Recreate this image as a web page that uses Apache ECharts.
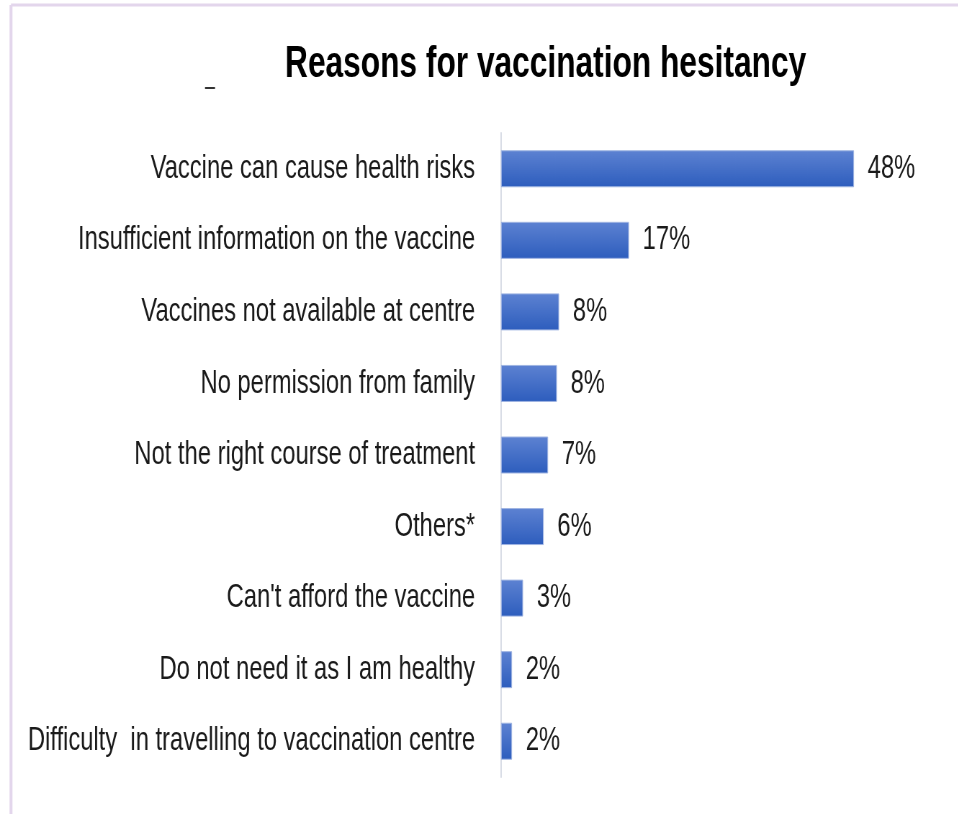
<!DOCTYPE html>
<html>
<head>
<meta charset="utf-8">
<script src="https://cdn.jsdelivr.net/npm/echarts@6/dist/echarts.min.js"></script>
<style>
html,body{margin:0;padding:0;background:#fff;overflow:hidden;}
#wrap{width:958px;height:814px;overflow:hidden;position:relative;}
#chart{width:1330px;height:814px;transform:scaleX(0.72);transform-origin:0 0;position:absolute;left:0;top:0;}
</style>
</head>
<body>
<div id="wrap"><div id="chart"></div></div>
<script>
const titleText = 'Reasons for vaccination hesitancy';
const categories = [
  'Vaccine can cause health risks',
  'Insufficient information on the vaccine',
  'Vaccines not available at centre',
  'No permission from family',
  'Not the right course of treatment',
  'Others*',
  "Can't afford the vaccine",
  'Do not need it as I am healthy',
  'Difficulty  in travelling to vaccination centre'
];
const values = [48, 17.4, 7.9, 7.6, 6.4, 5.8, 3.0, 1.5, 1.5];
const labels = ['48%', '17%', '8%', '8%', '7%', '6%', '3%', '2%', '2%'];

const SX = 0.72; // horizontal squeeze applied by CSS
const FONT = '"Liberation Sans", Arial, sans-serif';
const chart = echarts.init(document.getElementById('chart'), null, {renderer: 'canvas', width: 1330, height: 814});
chart.setOption({
  backgroundColor: '#ffffff',
  animation: false,
  title: {
    text: titleText,
    left: 542 / SX,
    top: 38,
    textAlign: 'center',
    textStyle: {fontFamily: FONT, fontWeight: 'bold', fontSize: 44, color: '#000'}
  },
  graphic: [
    {type: 'line', shape: {x1: 11 / SX, y1: 5, x2: 1330, y2: 5}, style: {stroke: '#e3d6ec', lineWidth: 3}, silent: true},
    {type: 'line', shape: {x1: 11 / SX, y1: 5, x2: 11 / SX, y2: 814}, style: {stroke: '#e3d6ec', lineWidth: 4}, silent: true},
    {type: 'line', shape: {x1: 205 / SX, y1: 88, x2: 215 / SX, y2: 88}, style: {stroke: '#333', lineWidth: 2}, silent: true}
  ],
  grid: {
    left: 501 / SX, top: 133, width: 353 / 48 * 60 / SX, height: 644,
    containLabel: false, outerBoundsMode: 'none'
  },
  xAxis: {type: 'value', min: 0, max: 60, show: false},
  yAxis: {
    type: 'category',
    data: categories,
    inverse: true,
    axisLine: {show: true, lineStyle: {color: '#d9dde6', width: 2}},
    axisTick: {show: false},
    axisLabel: {margin: 36, fontFamily: FONT, fontSize: 33, color: '#1a1a1a'}
  },
  series: [{
    type: 'bar',
    data: values,
    barWidth: 37,
    itemStyle: {
      borderColor: '#9fb4e2', borderWidth: 1,
      color: new echarts.graphic.LinearGradient(0, 0, 0, 1, [
        {offset: 0, color: '#5d82d2'},
        {offset: 1, color: '#2d5dbd'}
      ])
    },
    label: {
      show: true, position: 'right', distance: 19,
      fontFamily: FONT, fontSize: 33, color: '#1a1a1a',
      formatter: p => labels[p.dataIndex]
    }
  }]
});
</script>
</body>
</html>
